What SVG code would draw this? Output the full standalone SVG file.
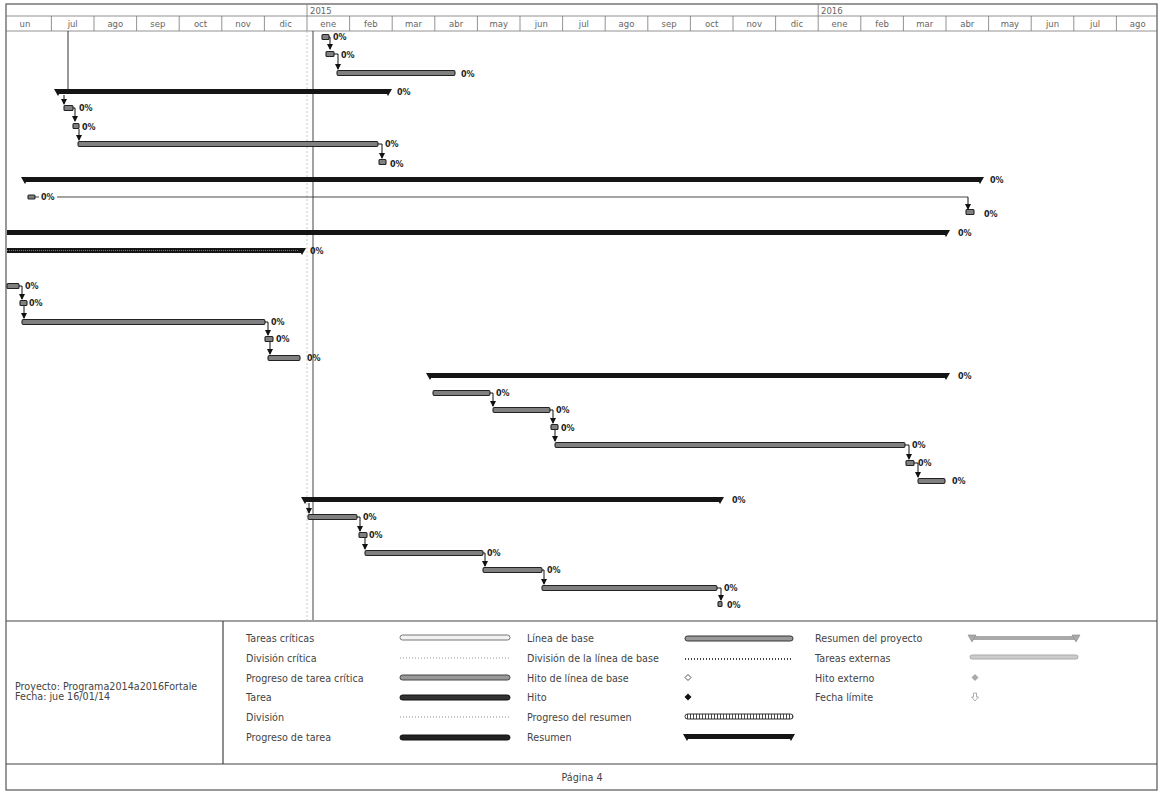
<svg xmlns="http://www.w3.org/2000/svg" width="1159" height="792" viewBox="0 0 1159 792">
<defs>
<style>
.frame{fill:none;stroke:#555;stroke-width:1.2}
.grid{stroke:#777;stroke-width:0.8}
.mon{font-family:"DejaVu Sans",sans-serif;font-size:8.5px;fill:#666;text-anchor:middle}
.yr{font-family:"DejaVu Sans",sans-serif;font-size:8.5px;fill:#666}
.t{fill:#808080;stroke:#222;stroke-width:1.1}
.s{fill:#151515}
.p{font-family:"DejaVu Sans",sans-serif;font-size:8px;font-weight:bold;fill:#222}
.lk{fill:none;stroke:#111;stroke-width:1;marker-end:url(#ar)}
.lg{font-family:"DejaVu Sans",sans-serif;font-size:9.6px;fill:#444}
</style>
<marker id="ar" markerWidth="6" markerHeight="6" refX="5" refY="3" orient="auto" markerUnits="userSpaceOnUse"><path d="M0,0 L6,3 L0,6 Z" fill="#111"/></marker>
<pattern id="hatch" width="3" height="6" patternUnits="userSpaceOnUse"><rect width="3" height="6" fill="#fff"/><rect width="1" height="6" fill="#444"/></pattern>
</defs>
<rect width="1159" height="792" fill="#fff"/>
<rect class="frame" x="6" y="4" width="1151" height="786"/>
<g id="header">
<line class="grid" x1="6" y1="16" x2="1157" y2="16"/>
<line class="grid" x1="6" y1="31" x2="1157" y2="31"/>
<line class="grid" x1="307" y1="4" x2="307" y2="31"/>
<line class="grid" x1="818.2" y1="4" x2="818.2" y2="31"/>
<text class="yr" x="310" y="14">2015</text>
<text class="yr" x="821" y="14">2016</text>
<g class="grid">
<line x1="51.4" y1="16" x2="51.4" y2="31"/><line x1="94" y1="16" x2="94" y2="31"/><line x1="136.6" y1="16" x2="136.6" y2="31"/><line x1="179.2" y1="16" x2="179.2" y2="31"/><line x1="221.8" y1="16" x2="221.8" y2="31"/><line x1="264.4" y1="16" x2="264.4" y2="31"/><line x1="349.6" y1="16" x2="349.6" y2="31"/><line x1="392.2" y1="16" x2="392.2" y2="31"/><line x1="434.8" y1="16" x2="434.8" y2="31"/><line x1="477.4" y1="16" x2="477.4" y2="31"/><line x1="520" y1="16" x2="520" y2="31"/><line x1="562.6" y1="16" x2="562.6" y2="31"/><line x1="605.2" y1="16" x2="605.2" y2="31"/><line x1="647.8" y1="16" x2="647.8" y2="31"/><line x1="690.4" y1="16" x2="690.4" y2="31"/><line x1="733" y1="16" x2="733" y2="31"/><line x1="775.6" y1="16" x2="775.6" y2="31"/><line x1="860.8" y1="16" x2="860.8" y2="31"/><line x1="903.4" y1="16" x2="903.4" y2="31"/><line x1="946" y1="16" x2="946" y2="31"/><line x1="988.6" y1="16" x2="988.6" y2="31"/><line x1="1031.2" y1="16" x2="1031.2" y2="31"/><line x1="1073.8" y1="16" x2="1073.8" y2="31"/><line x1="1116.4" y1="16" x2="1116.4" y2="31"/>
</g>
<text class="mon" x="25" y="27">un</text><text class="mon" x="72.7" y="27">jul</text><text class="mon" x="115.3" y="27">ago</text><text class="mon" x="157.9" y="27">sep</text><text class="mon" x="200.5" y="27">oct</text><text class="mon" x="243.1" y="27">nov</text><text class="mon" x="285.7" y="27">dic</text><text class="mon" x="328.3" y="27">ene</text><text class="mon" x="370.9" y="27">feb</text><text class="mon" x="413.5" y="27">mar</text><text class="mon" x="456.1" y="27">abr</text><text class="mon" x="498.7" y="27">may</text><text class="mon" x="541.3" y="27">jun</text><text class="mon" x="583.9" y="27">jul</text><text class="mon" x="626.5" y="27">ago</text><text class="mon" x="669.1" y="27">sep</text><text class="mon" x="711.7" y="27">oct</text><text class="mon" x="754.3" y="27">nov</text><text class="mon" x="796.9" y="27">dic</text><text class="mon" x="839.5" y="27">ene</text><text class="mon" x="882.1" y="27">feb</text><text class="mon" x="924.7" y="27">mar</text><text class="mon" x="967.3" y="27">abr</text><text class="mon" x="1009.9" y="27">may</text><text class="mon" x="1052.5" y="27">jun</text><text class="mon" x="1095.1" y="27">jul</text><text class="mon" x="1137.7" y="27">ago</text>
</g>
<g id="gridlines">
<line x1="307" y1="31" x2="307" y2="620" stroke="#bbb" stroke-width="0.8" stroke-dasharray="2,2"/>
<line x1="313" y1="31" x2="313" y2="620" stroke="#444" stroke-width="1"/>
<line x1="68" y1="31" x2="68" y2="89" stroke="#333" stroke-width="1"/>
</g>
<g id="connectors">
<path class="lk" d="M329,37 h1 v12"/>
<path class="lk" d="M334,54 h4 v15"/>
<path class="lk" d="M64,95 v9"/>
<path class="lk" d="M73,108 h2 v13"/>
<path class="lk" d="M79,129 v11"/>
<path class="lk" d="M378,144 h4 v14"/>
<path d="M35,197 h4 M57,197 H968" fill="none" stroke="#333" stroke-width="0.9"/>
<path class="lk" d="M968,197 v12"/>
<path class="lk" d="M19,286 h3 v13"/>
<path class="lk" d="M24,306 v12"/>
<path class="lk" d="M265,322 h3 v13"/>
<path class="lk" d="M270,342 v12"/>
<path class="lk" d="M490,393 h3 v13"/>
<path class="lk" d="M550,410 h3 v13"/>
<path class="lk" d="M555,430 v11"/>
<path class="lk" d="M905,445 h4 v14"/>
<path class="lk" d="M914,463 h4 v14"/>
<path class="lk" d="M309,503 v10"/>
<path class="lk" d="M357,517 h3 v14"/>
<path class="lk" d="M365,538 v11"/>
<path class="lk" d="M483,553 h2 v13"/>
<path class="lk" d="M542,570 h2 v14"/>
<path class="lk" d="M717,588 h4 v12"/>
</g>
<g id="r01"><rect class="t" x="322" y="34.5" width="7" height="5" rx="1"/><text class="p" x="333" y="40">0%</text></g>
<g id="r02"><rect class="t" x="326" y="51.5" width="8" height="5" rx="1"/><text class="p" x="341" y="58">0%</text></g>
<g id="r03"><rect class="t" x="337" y="70.5" width="118" height="5" rx="1.5"/><text class="p" x="461" y="77">0%</text></g>
<g id="r04"><rect class="s" x="58" y="89" width="330" height="5"/><path class="s" d="M54,89 h8 l-4,7 z M384,89 h8 l-4,7 z"/><text class="p" x="397" y="95">0%</text></g>
<g id="r05"><rect class="t" x="64" y="105.5" width="9" height="5" rx="1"/><text class="p" x="79" y="111">0%</text></g>
<g id="r06"><rect class="t" x="73" y="123.5" width="6" height="5" rx="1"/><text class="p" x="82" y="130">0%</text></g>
<g id="r07"><rect class="t" x="78" y="141.5" width="300" height="5" rx="1.5"/><text class="p" x="385" y="147">0%</text></g>
<g id="r08"><rect class="t" x="379" y="159.5" width="7" height="5" rx="1"/><text class="p" x="390" y="167">0%</text></g>
<g id="r09"><rect class="s" x="25" y="177" width="955" height="5"/><path class="s" d="M21,177 h8 l-4,7 z M976,177 h8 l-4,7 z"/><text class="p" x="990" y="183">0%</text></g>
<g id="r10"><rect class="t" x="28" y="195" width="7" height="4" rx="1"/><text class="p" x="41" y="200">0%</text></g>
<g id="r11"><rect class="t" x="966" y="209.5" width="8" height="5" rx="1"/><text class="p" x="984" y="217">0%</text></g>
<g id="r12"><rect class="s" x="7" y="230" width="939" height="5"/><path class="s" d="M942,230 h8 l-4,7 z"/><text class="p" x="958" y="236">0%</text></g>
<g id="r13"><rect class="s" x="7" y="248" width="295" height="5"/><line x1="7" y1="250.5" x2="298" y2="250.5" stroke="#777" stroke-width="1" stroke-dasharray="1,1"/><path class="s" d="M298,248 h8 l-4,7 z"/><text class="p" x="310" y="254">0%</text></g>
<g id="r14"><rect class="t" x="7" y="283.5" width="12" height="5" rx="1"/><text class="p" x="25" y="289">0%</text></g>
<g id="r15"><rect class="t" x="20" y="300.5" width="7" height="5" rx="1"/><text class="p" x="29" y="306">0%</text></g>
<g id="r16"><rect class="t" x="22" y="319.5" width="243" height="5" rx="1.5"/><text class="p" x="271" y="325">0%</text></g>
<g id="r17"><rect class="t" x="265" y="336.5" width="8" height="5" rx="1"/><text class="p" x="276" y="342">0%</text></g>
<g id="r18"><rect class="t" x="268" y="355.5" width="32" height="5" rx="1.5"/><text class="p" x="307" y="361">0%</text></g>
<g id="r19"><rect class="s" x="430" y="373" width="516" height="5"/><path class="s" d="M426,373 h8 l-4,7 z M942,373 h8 l-4,7 z"/><text class="p" x="958" y="379">0%</text></g>
<g id="r20"><rect class="t" x="433" y="390.5" width="57" height="5" rx="1.5"/><text class="p" x="496" y="396">0%</text></g>
<g id="r21"><rect class="t" x="493" y="407.5" width="57" height="5" rx="1.5"/><text class="p" x="556" y="413">0%</text></g>
<g id="r22"><rect class="t" x="551" y="424.5" width="7" height="5" rx="1"/><text class="p" x="561" y="431">0%</text></g>
<g id="r23"><rect class="t" x="555" y="442.5" width="350" height="5" rx="1.5"/><text class="p" x="912" y="448">0%</text></g>
<g id="r24"><rect class="t" x="906" y="460.5" width="8" height="5" rx="1"/><text class="p" x="918" y="466">0%</text></g>
<g id="r25"><rect class="t" x="918" y="478.5" width="27" height="5" rx="1.5"/><text class="p" x="952" y="484">0%</text></g>
<g id="r26"><rect class="s" x="305" y="497" width="415" height="5"/><path class="s" d="M301,497 h8 l-4,7 z M716,497 h8 l-4,7 z"/><text class="p" x="732" y="503">0%</text></g>
<g id="r27"><rect class="t" x="308" y="514.5" width="49" height="5" rx="1.5"/><text class="p" x="363" y="520">0%</text></g>
<g id="r28"><rect class="t" x="359" y="532.5" width="8" height="5" rx="1"/><text class="p" x="369" y="538">0%</text></g>
<g id="r29"><rect class="t" x="365" y="550.5" width="118" height="5" rx="1.5"/><text class="p" x="487" y="556">0%</text></g>
<g id="r30"><rect class="t" x="483" y="567.5" width="59" height="5" rx="1.5"/><text class="p" x="547" y="573">0%</text></g>
<g id="r31"><rect class="t" x="542" y="585.5" width="175" height="5" rx="1.5"/><text class="p" x="724" y="591">0%</text></g>
<g id="r32"><rect class="t" x="718" y="601.5" width="4" height="5" rx="1"/><text class="p" x="727" y="608">0%</text></g>
<g id="legend">
<line x1="6" y1="621" x2="1157" y2="621" stroke="#444" stroke-width="1.2"/>
<line x1="6" y1="764" x2="1157" y2="764" stroke="#444" stroke-width="1.2"/>
<line x1="223" y1="621" x2="223" y2="764" stroke="#444" stroke-width="1.2"/>
<text class="lg" x="15" y="690">Proyecto: Programa2014a2016Fortale</text>
<text class="lg" x="15" y="700">Fecha: jue 16/01/14</text>
<text class="lg" x="246" y="642">Tareas críticas</text>
<text class="lg" x="246" y="662">División crítica</text>
<text class="lg" x="246" y="682">Progreso de tarea crítica</text>
<text class="lg" x="246" y="701">Tarea</text>
<text class="lg" x="246" y="721">División</text>
<text class="lg" x="246" y="741">Progreso de tarea</text>
<rect x="400" y="635" width="110" height="5" rx="2.5" fill="#f2f2f2" stroke="#777" stroke-width="1"/>
<line x1="400" y1="658" x2="510" y2="658" stroke="#999" stroke-width="1.2" stroke-dasharray="1,2"/>
<rect x="400" y="675" width="110" height="5" rx="2.5" fill="#999" stroke="#444" stroke-width="1"/>
<rect x="400" y="695" width="110" height="5" rx="2.5" fill="#333" stroke="#111" stroke-width="1"/>
<line x1="400" y1="717" x2="510" y2="717" stroke="#888" stroke-width="1.2" stroke-dasharray="1,2"/>
<rect x="400" y="735" width="110" height="5" rx="2.5" fill="#222" stroke="#111" stroke-width="1"/>
<text class="lg" x="527" y="642">Línea de base</text>
<text class="lg" x="527" y="662">División de la línea de base</text>
<text class="lg" x="527" y="682">Hito de línea de base</text>
<text class="lg" x="527" y="701">Hito</text>
<text class="lg" x="527" y="721">Progreso del resumen</text>
<text class="lg" x="527" y="741">Resumen</text>
<rect x="685" y="636" width="108" height="5" rx="2.5" fill="#999" stroke="#333" stroke-width="1"/>
<line x1="685" y1="659" x2="793" y2="659" stroke="#444" stroke-width="2" stroke-dasharray="1,2"/>
<path d="M688,674.5 l3,3 l-3,3 l-3,-3 z" fill="#fff" stroke="#555" stroke-width="1"/>
<path d="M688,693.5 l3.5,3.5 l-3.5,3.5 l-3.5,-3.5 z" fill="#111"/>
<rect x="685" y="714" width="108" height="5" rx="2.5" fill="url(#hatch)" stroke="#333" stroke-width="1"/>
<rect x="687" y="734" width="104" height="5" fill="#151515"/><path d="M683,734 h8 l-4,7 z M787,734 h8 l-4,7 z" fill="#151515"/>
<text class="lg" x="815" y="642">Resumen del proyecto</text>
<text class="lg" x="815" y="662">Tareas externas</text>
<text class="lg" x="815" y="682">Hito externo</text>
<text class="lg" x="815" y="701">Fecha límite</text>
<rect x="972" y="636" width="104" height="4" fill="#aaa"/><path d="M968,635 h8 l-4,7 z M1072,635 h8 l-4,7 z" fill="#aaa" stroke="#888" stroke-width="0.6"/>
<rect x="970" y="655" width="108" height="4" rx="2" fill="#ccc" stroke="#aaa" stroke-width="1"/>
<path d="M975,674.5 l3,3 l-3,3 l-3,-3 z" fill="#aaa" stroke="#888" stroke-width="0.6"/>
<path d="M973.5,693 h3 v4 h2 l-3.5,4 l-3.5,-4 h2 z" fill="#fff" stroke="#999" stroke-width="0.8"/>
<text class="lg" x="582" y="781" text-anchor="middle">Página 4</text>
</g>
</svg>
